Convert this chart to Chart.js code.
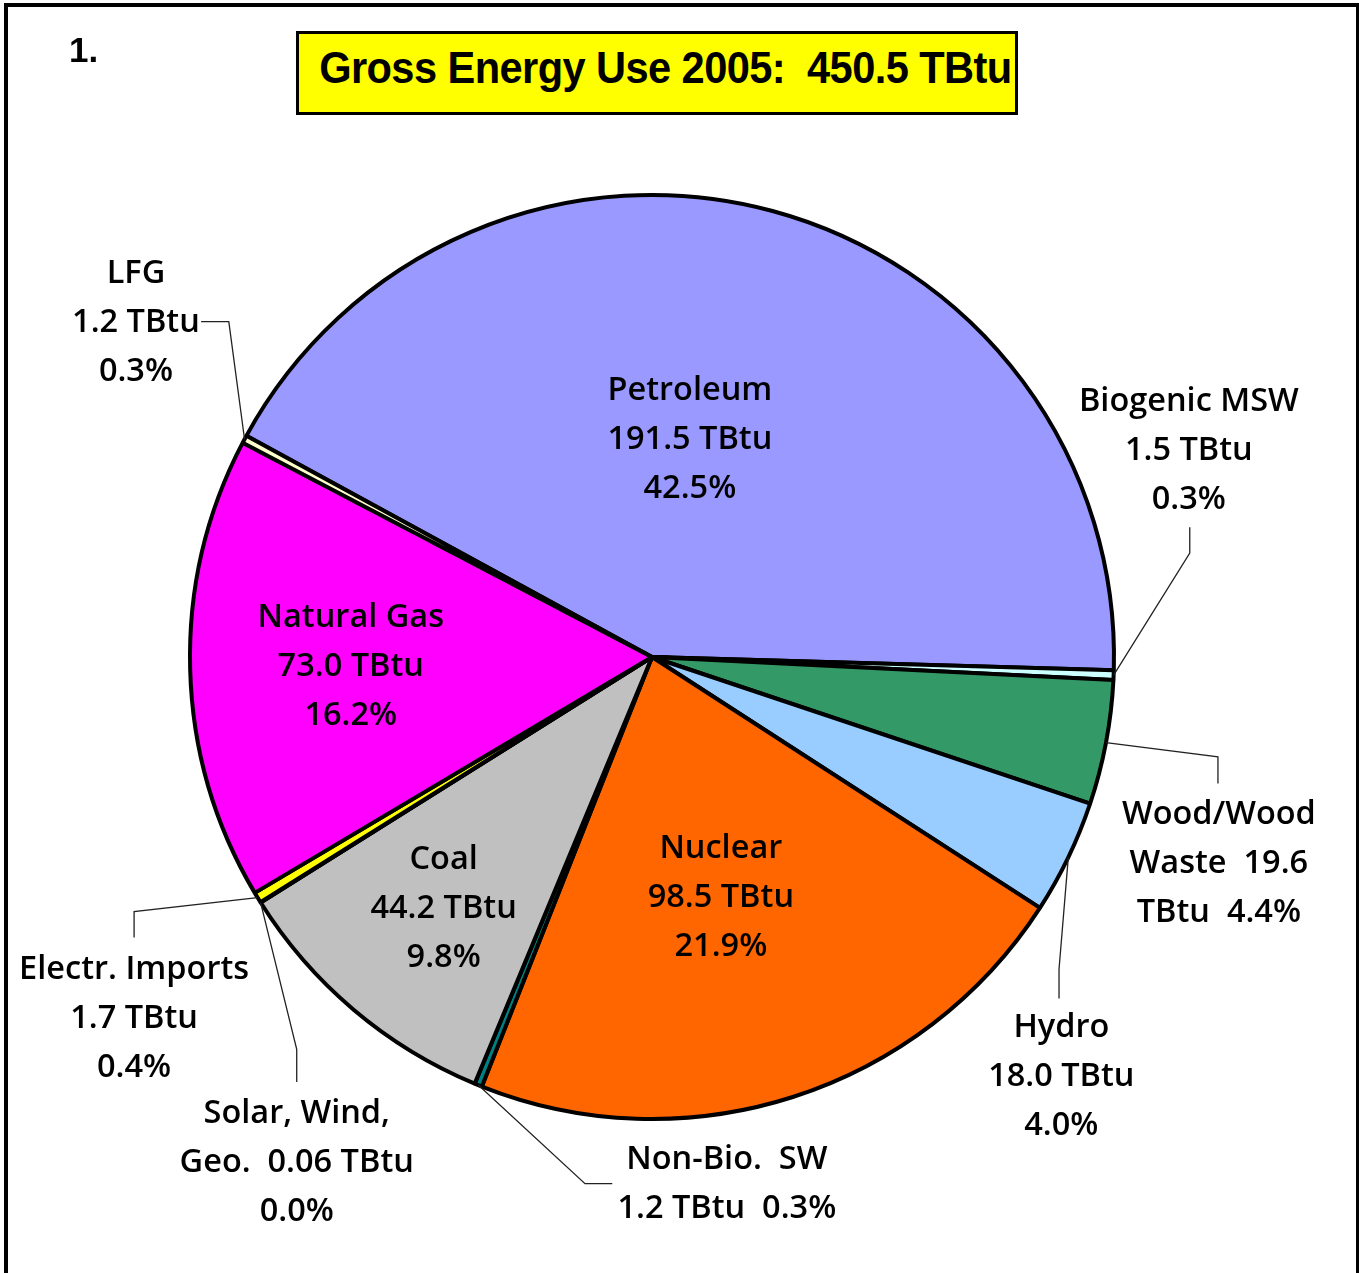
<!DOCTYPE html>
<html>
<head>
<meta charset="utf-8">
<script src="https://cdn.jsdelivr.net/npm/chart.js@4/dist/chart.umd.min.js"></script>
<style>
  html, body { margin:0; padding:0; width:1359px; height:1273px; overflow:hidden; background:#fff; }
  #frame { position:absolute; left:4px; top:3px; width:1348px; height:1300px; border:4px solid #000; box-sizing:content-box; }
  #num { position:absolute; left:69px; top:30px; font:bold 35px "Liberation Sans", Arial, sans-serif; color:#000; }
  #title { position:absolute; left:296px; top:31px; width:716px; height:78px; border:3px solid #000; background:#ffff00;
           color:#000; box-sizing:content-box; white-space:pre; overflow:hidden;
           display:flex; justify-content:center; align-items:center; }
  #title span { flex:none; font:bold 44px "Liberation Sans", Arial, sans-serif; letter-spacing:-0.6px; line-height:1.15;
                transform:translate(8px,-5px) scaleX(0.945); transform-origin:center; }
  canvas { position:absolute; left:0; top:0; }
</style>
</head>
<body>
<div id="frame"></div>
<canvas id="c" width="1359" height="1273"></canvas>
<div id="num">1.</div>
<div id="title"><span>Gross Energy Use 2005:  450.5 TBtu</span></div>
<script>
// ---- data ----
const categories = ['Petroleum','Biogenic MSW','Wood/Wood Waste','Hydro','Nuclear','Non-Bio. SW','Coal','Solar, Wind, Geo.','Electr. Imports','Natural Gas','LFG'];
const values = [191.5, 1.5, 19.6, 18.0, 98.5, 1.2, 44.2, 0.06, 1.7, 73.0, 1.2];
const colors = ['#9999ff','#ccffff','#339966','#99ccff','#ff6600','#008080','#c0c0c0','#ffffcc','#ffff00','#ff00ff','#ffffcc'];
const labelLines = [
  ['Petroleum','191.5 TBtu','42.5%'],
  ['Biogenic MSW','1.5 TBtu','0.3%'],
  ['Wood/Wood','Waste  19.6','TBtu  4.4%'],
  ['Hydro','18.0 TBtu','4.0%'],
  ['Nuclear','98.5 TBtu','21.9%'],
  ['Non-Bio.  SW','1.2 TBtu  0.3%'],
  ['Coal','44.2 TBtu','9.8%'],
  ['Solar, Wind,','Geo.  0.06 TBtu','0.0%'],
  ['Electr. Imports','1.7 TBtu','0.4%'],
  ['Natural Gas','73.0 TBtu','16.2%'],
  ['LFG','1.2 TBtu','0.3%']
];
// label layout, in units of the pie radius relative to the pie centre
// pos: centre of label block; elbow/attach: leader line points (inside labels have none)
const labelLayout = [
  {pos:[0.082,-0.470]},
  {pos:[1.162,-0.447], elbow:[1.164,-0.225], attach:[1.164,-0.281]},
  {pos:[1.227,0.447],  elbow:[1.225,0.216],  attach:[1.225,0.274]},
  {pos:[0.886,0.909],  elbow:[0.881,0.676],  attach:[0.881,0.739]},
  {pos:[0.149,0.522]},
  {pos:[0.162,1.142],  elbow:[-0.145,1.140], attach:[-0.086,1.140]},
  {pos:[-0.451,0.544]},
  {pos:[-0.769,1.095], elbow:[-0.769,0.849], attach:[-0.769,0.920]},
  {pos:[-1.121,0.784], elbow:[-1.121,0.551], attach:[-1.121,0.607]},
  {pos:[-0.652,0.021]},
  {pos:[-1.117,-0.724], elbow:[-0.916,-0.726], attach:[-0.976,-0.726]}
];

const labelPlugin = {
  id:'sliceLabels',
  afterDatasetsDraw(chart){
    const ctx = chart.ctx;
    const arcs = chart.getDatasetMeta(0).data;
    ctx.save();
    arcs.forEach((arc, i) => {
      const cx = arc.x, cy = arc.y, R = arc.outerRadius;
      const L = labelLayout[i];
      if (L.elbow) {
        const mid = (arc.startAngle + arc.endAngle) / 2;
        const ex = cx + R * Math.cos(mid), ey = cy + R * Math.sin(mid);
        ctx.beginPath();
        ctx.strokeStyle = '#222';
        ctx.lineWidth = 1.3;
        ctx.moveTo(ex, ey);
        ctx.lineTo(cx + L.elbow[0]*R, cy + L.elbow[1]*R);
        ctx.lineTo(cx + L.attach[0]*R, cy + L.attach[1]*R);
        ctx.stroke();
      }
      const lines = labelLines[i];
      const lh = 49;
      const px = cx + L.pos[0]*R, py = cy + L.pos[1]*R;
      ctx.fillStyle = '#000';
      ctx.font = '600 32.5px "Open Sans", "DejaVu Sans", sans-serif';
      ctx.textAlign = 'center';
      ctx.textBaseline = 'middle';
      lines.forEach((t, k) => {
        ctx.fillText(t, px, py + (k - (lines.length-1)/2) * lh);
      });
    });
    ctx.restore();
  }
};

new Chart(document.getElementById('c'), {
  type:'pie',
  data:{ labels:categories, datasets:[{ data:values, backgroundColor:colors, borderColor:'#000', borderWidth:4, radius:462 }] },
  options:{
    responsive:false, animation:false, devicePixelRatio:1,
    rotation:-61.4,
    layout:{ padding:{left:0, right:55, top:41, bottom:0} },
    plugins:{ legend:{display:false}, tooltip:{enabled:false}, title:{display:false} }
  },
  plugins:[labelPlugin]
});
</script>
</body>
</html>
